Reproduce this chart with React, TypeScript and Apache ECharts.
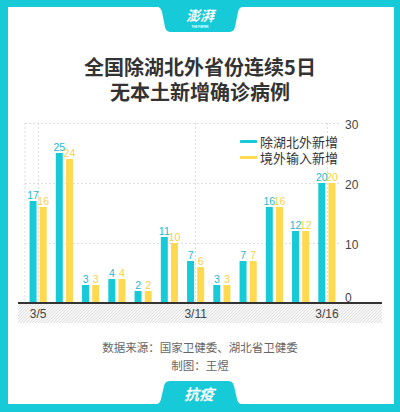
import React, { useEffect, useRef } from "react";
import * as echarts from "echarts";

const categories = ["3/5", "3/6", "3/7", "3/8", "3/9", "3/10", "3/11", "3/12", "3/13", "3/14", "3/15", "3/16"];
const localNew = [17, 25, 3, 4, 2, 11, 7, 3, 7, 16, 12, 20];
const importedNew = [16, 24, 3, 4, 2, 10, 6, 3, 7, 16, 12, 20];
const seriesNames = ["除湖北外新增", "境外输入新增"];
const shownLabelIdx = [0, 6, 11];
const titleText = "全国除湖北外省份连续5日\n无本土新增确诊病例";
const sourceText = "数据来源：国家卫健委、湖北省卫健委";
const authorText = "制图：王煜";

const CYAN = "#16CAD8";
const YELLOW = "#FFD94F";
const FONT = "'Liberation Sans', 'Noto Sans CJK SC', sans-serif";
const CJK = "'Noto Sans CJK SC', sans-serif";

const TOP_TAB =
  "M152,6 C159,6 161,8 162,12 L165,27 C166,31 168,32 172,32 L228,32 C232,32 234,31 235,27 L238,12 C239,8 241,6 248,6 Z";
const BOTTOM_TAB =
  "M151,405 C158,405 160,403 161,399 L164,386 C165,382 167,381 171,381 L227,381 C231,381 233,382 234,386 L237,399 C238,403 240,405 247,405 Z";

let registered = false;
function registerShapes() {
  if (registered) return;
  echarts.graphic.registerShape("tabTop", echarts.graphic.extendPath(TOP_TAB, {}));
  echarts.graphic.registerShape("tabBottom", echarts.graphic.extendPath(BOTTOM_TAB, {}));
  registered = true;
}

function hatchLines(L: number, R: number, T: number, B: number, step: number) {
  const h = B - T;
  const out: any[] = [];
  for (let x0 = L - h; x0 < R; x0 += step) {
    const t0 = Math.max(0, L - x0);
    const t1 = Math.min(h, R - x0);
    if (t1 <= t0) continue;
    out.push({
      type: "line",
      silent: true,
      shape: { x1: x0 + t0, y1: B - t0, x2: x0 + t1, y2: B - t1 },
      style: { stroke: "#dcdcdc", lineWidth: 0.8 },
    });
  }
  return out;
}

export default function App() {
  const ref = useRef<HTMLDivElement>(null);
  useEffect(() => {
    if (!ref.current) return;
    registerShapes();
    const chart = echarts.init(ref.current, undefined, { renderer: "svg" });
    const barLabel = (color: string) => ({
      show: true,
      position: "top",
      distance: 1,
      fontSize: 10.5,
      color,
      fontFamily: FONT,
    });
    chart.setOption({
      animation: false,
      backgroundColor: CYAN,
      title: {
        text: titleText,
        left: "center",
        top: 54,
        padding: 0,
        textStyle: { fontSize: 20, fontWeight: "bold", color: "#333", lineHeight: 25, fontFamily: CJK },
      },
      legend: {
        orient: "vertical",
        left: 235,
        top: 130,
        itemGap: 3,
        itemWidth: 17,
        itemHeight: 3,
        icon: "roundRect",
        data: seriesNames,
        textStyle: { fontSize: 13, color: "#333", fontFamily: CJK, padding: [0, 0, 0, -2] },
      },
      grid: { left: 25, right: 60, top: 123, bottom: 109 },
      xAxis: {
        type: "category",
        data: categories,
        axisLine: { show: false },
        axisTick: { show: false },
        axisLabel: {
          interval: (i: number) => shownLabelIdx.includes(i),
          color: "#444",
          fontSize: 12,
          fontFamily: FONT,
          margin: 5,
        },
        splitLine: { show: true, alignWithLabel: true, lineStyle: { color: "#dddddd", type: [2, 2], width: 1 } },
      },
      yAxis: {
        type: "value",
        position: "right",
        min: 0,
        max: 30,
        interval: 10,
        axisLine: { show: false },
        axisTick: { show: false },
        axisLabel: {
          color: "#444",
          fontSize: 12,
          fontFamily: FONT,
          margin: 5,
          formatter: (v: number) => (v === 0 ? "{z|0}" : "{n|" + v + "}"),
          rich: {
            z: { padding: [0, 0, 10, 0], color: "#444", fontSize: 12, fontFamily: FONT },
            n: { padding: [4, 0, 0, 0], color: "#444", fontSize: 12, fontFamily: FONT },
          },
        },
        splitLine: { show: true, lineStyle: { color: "#dddddd", type: [2, 2], width: 1 } },
      },
      series: [
        {
          name: seriesNames[0],
          type: "bar",
          data: localNew,
          barWidth: 7,
          barGap: "45%",
          itemStyle: { color: CYAN },
          label: barLabel("#22B9D2"),
        },
        {
          name: seriesNames[1],
          type: "bar",
          data: importedNew,
          barWidth: 7,
          itemStyle: { color: YELLOW },
          label: barLabel("#F7CF45"),
        },
      ],
      graphic: [
        {
          type: "rect",
          z: -10,
          silent: true,
          shape: { x: 8, y: 7, width: 386, height: 397 },
          style: { fill: "#fff" },
        },
        {
          type: "line",
          silent: true,
          shape: { x1: 25, y1: 123, x2: 25, y2: 303 },
          style: { stroke: "#dddddd", lineDash: [2, 2], lineWidth: 1 },
          z: -5,
        },
        {
          type: "rect",
          silent: true,
          z: -5,
          shape: { x: 18, y: 303, width: 364, height: 20 },
          style: { fill: "#f6f6f6" },
        },
        {
          type: "group",
          z: -4,
          silent: true,
          children: hatchLines(18, 382, 304, 323, 3),
        },
        {
          type: "line",
          silent: true,
          z: 10,
          shape: { x1: 18, y1: 303, x2: 382, y2: 303 },
          style: { stroke: "#333", lineWidth: 2 },
        },
        { type: "tabTop", x: 0, y: 0, z: 5, silent: true, style: { fill: CYAN } },
        {
          type: "text",
          x: 200,
          y: 15,
          z: 6,
          style: {
            text: "澎湃",
            fill: "#fff",
            font: "italic bold 14px 'Noto Sans CJK SC', sans-serif",
            align: "center",
            verticalAlign: "middle",
          },
        },
        {
          type: "text",
          x: 200,
          y: 27,
          z: 6,
          style: {
            text: "THE PAPER",
            fill: "#fff",
            font: "bold 3px 'Liberation Sans', sans-serif",
            align: "center",
            verticalAlign: "middle",
          },
        },
        { type: "tabBottom", x: 0, y: 0, z: 5, silent: true, style: { fill: CYAN } },
        {
          type: "text",
          x: 199,
          y: 393,
          z: 6,
          style: {
            text: "抗疫",
            fill: "#fff",
            font: "italic bold 15px 'Noto Sans CJK SC', sans-serif",
            align: "center",
            verticalAlign: "middle",
          },
        },
        {
          type: "text",
          x: 200,
          y: 347,
          style: {
            text: sourceText,
            fill: "#666",
            font: "11.5px 'Noto Sans CJK SC', sans-serif",
            align: "center",
            verticalAlign: "middle",
          },
        },
        {
          type: "text",
          x: 200,
          y: 365,
          style: {
            text: authorText,
            fill: "#666",
            font: "11.5px 'Noto Sans CJK SC', sans-serif",
            align: "center",
            verticalAlign: "middle",
          },
        },
      ],
    });
    return () => chart.dispose();
  }, []);
  return <div ref={ref} style={{ position: "fixed", left: 0, top: 0, width: 400, height: 412 }} />;
}
